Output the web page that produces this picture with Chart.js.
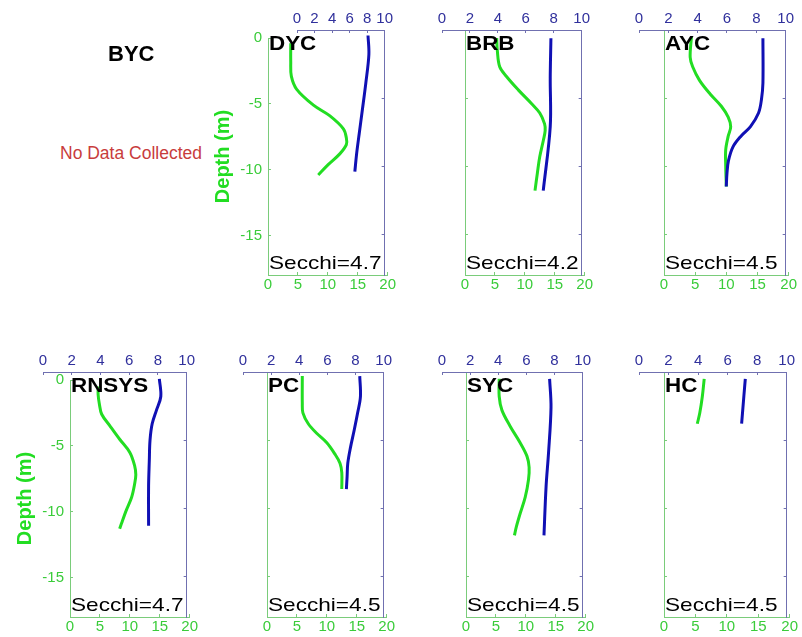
<!DOCTYPE html>
<html>
<head>
<meta charset="utf-8">
<script src="https://cdn.jsdelivr.net/npm/chart.js@4.4.1/dist/chart.umd.min.js"></script>
<style>
  html, body { margin: 0; padding: 0; background: #fff; }
  #fig { position: relative; width: 802px; height: 637px; overflow: hidden; font-family: Arial, "Liberation Sans", sans-serif; }
  #fig canvas { position: absolute; }
  .lbl { position: absolute; white-space: nowrap; transform-origin: 0 0; color: #000; }
</style>
</head>
<body>
<div id="fig"></div>
<script>
// temperature (green, bottom axis 0-20) and DO (blue, top axis 0-10) vs depth, per station
const DYC_T_Z = [-0.4, -1.8, -2.9, -3.9, -5.1, -5.9, -6.9, -7.6, -8.1, -8.8, -9.6, -10.4];
const DYC_T   = [3.8, 3.8, 3.9, 4.8, 7.6, 10.3, 12.6, 13.1, 13.1, 12.0, 10.1, 8.4];
const DYC_DO_Z = [-0.4, -1.8, -3.9, -5.9, -7.6, -9.1, -10.4];
const DYC_DO   = [8.1, 8.2, 7.85, 7.45, 7.1, 6.8, 6.6];

const BRB_T_Z = [-0.6, -1.5, -2.7, -3.4, -4.4, -5.4, -6.1, -6.9, -7.4, -8.1, -9.3, -10.5, -11.8];
const BRB_T   = [5.3, 5.4, 5.8, 6.9, 8.9, 11.1, 12.5, 13.3, 13.4, 13.1, 12.5, 12.1, 11.7];
const BRB_DO_Z = [-0.6, -3.5, -7.1, -11.8];
const BRB_DO   = [7.8, 7.75, 7.75, 7.25];

const AYC_T_Z = [-0.5, -2.0, -2.7, -3.7, -4.7, -5.6, -6.4, -7.1, -7.8, -8.8, -10.0, -11.5];
const AYC_T   = [4.4, 4.2, 4.6, 5.7, 7.4, 9.2, 10.3, 10.7, 10.3, 9.9, 9.9, 10.0];
const AYC_DO_Z = [-0.6, -3.9, -5.1, -6.1, -7.1, -7.8, -8.6, -9.6, -10.5, -11.5];
const AYC_DO   = [8.45, 8.45, 8.35, 8.15, 7.6, 6.95, 6.4, 6.1, 6.0, 5.95];

const RNSYS_T_Z = [-0.5, -1.1, -1.8, -2.6, -3.5, -4.5, -5.5, -6.5, -7.2, -7.9, -8.9, -9.9, -10.9, -11.3];
const RNSYS_T   = [4.7, 4.7, 4.9, 5.3, 6.7, 8.3, 10.0, 10.8, 11.0, 10.8, 10.3, 9.4, 8.6, 8.3];
const RNSYS_DO_Z = [-0.5, -1.8, -2.8, -3.8, -5.0, -6.5, -8.4, -11.3];
const RNSYS_DO   = [8.1, 8.2, 7.9, 7.6, 7.45, 7.4, 7.35, 7.35];

const PC_T_Z = [-0.3, -2.3, -3.0, -3.8, -4.5, -5.2, -6.0, -6.7, -7.4, -8.6];
const PC_T   = [5.9, 5.9, 6.0, 6.9, 8.3, 10.0, 11.3, 12.2, 12.5, 12.5];
const PC_DO_Z = [-0.3, -1.8, -3.0, -4.3, -5.5, -6.7, -7.7, -8.6];
const PC_DO   = [8.3, 8.35, 8.15, 7.9, 7.65, 7.45, 7.4, 7.35];

const SYC_T_Z = [-0.5, -1.8, -2.8, -4.0, -5.2, -6.2, -7.0, -7.9, -9.2, -10.4, -11.4, -12.0];
const SYC_T   = [5.55, 5.55, 6.0, 7.4, 9.05, 10.2, 10.55, 10.45, 9.9, 9.05, 8.4, 8.1];
const SYC_DO_Z = [-0.5, -2.6, -6.0, -8.4, -12.0];
const SYC_DO   = [7.65, 7.75, 7.57, 7.4, 7.25];

const HC_T_Z = [-0.5, -1.8, -3.0, -3.8];
const HC_T   = [6.4, 6.1, 5.7, 5.3];
const HC_DO_Z = [-0.5, -1.8, -3.8];
const HC_DO   = [7.2, 7.1, 6.95];

const SECCHI = { DYC: 4.7, BRB: 4.2, AYC: 4.5, RNSYS: 4.7, PC: 4.5, SYC: 4.5, HC: 4.5 };

const T_TICKS = [0, 5, 10, 15, 20];
const DO_TICKS = [0, 2, 4, 6, 8, 10];
const Z_TICKS = [-15, -10, -5, 0];

const GREEN = '#22dd22', GREEN_AX = '#7acc7a', GREEN_TXT = '#3acc3a';
const BLUE = '#1010b4', BLUE_AX = '#7070b0', BLUE_TXT = '#30309c';

// panel frames: row, green box [left,right], blue axis [left,right]
const ROWS = [{ top: 30, bottom: 275 }, { top: 372, bottom: 617 }];
const PANELS = [
  { name: 'DYC', row: 0, g: [268, 388], b: [297, 388], ylab: true, t: DYC_T, tz: DYC_T_Z, o: DYC_DO, oz: DYC_DO_Z },
  { name: 'BRB', row: 0, g: [465, 585], b: [442, 585], ylab: false, t: BRB_T, tz: BRB_T_Z, o: BRB_DO, oz: BRB_DO_Z },
  { name: 'AYC', row: 0, g: [664, 789], b: [639, 789], ylab: false, t: AYC_T, tz: AYC_T_Z, o: AYC_DO, oz: AYC_DO_Z },
  { name: 'RNSYS', row: 1, g: [70, 190], b: [43, 190], ylab: true, t: RNSYS_T, tz: RNSYS_T_Z, o: RNSYS_DO, oz: RNSYS_DO_Z },
  { name: 'PC', row: 1, g: [267, 387], b: [243, 387], ylab: false, t: PC_T, tz: PC_T_Z, o: PC_DO, oz: PC_DO_Z },
  { name: 'SYC', row: 1, g: [466, 586], b: [442, 586], ylab: false, t: SYC_T, tz: SYC_T_Z, o: SYC_DO, oz: SYC_DO_Z },
  { name: 'HC', row: 1, g: [664, 790], b: [639, 790], ylab: false, t: HC_T, tz: HC_T_Z, o: HC_DO, oz: HC_DO_Z },
];

const fig = document.getElementById('fig');

function addCanvas(left, top, w, h) {
  const c = document.createElement('canvas');
  c.width = w; c.height = h;
  c.style.left = left + 'px'; c.style.top = top + 'px';
  c.style.width = w + 'px'; c.style.height = h + 'px';
  fig.appendChild(c);
  return c;
}
function addText(txt, left, top, css) {
  const d = document.createElement('div');
  d.className = 'lbl'; d.textContent = txt;
  d.style.left = left + 'px'; d.style.top = top + 'px';
  Object.assign(d.style, css || {});
  fig.appendChild(d);
}
const fixTicks = (vals) => (s) => { s.ticks = vals.map(v => ({ value: v })); };
const lineSet = (xs, zs, color) => ({
  data: xs.map((v, i) => ({ x: v, y: zs[i] })), showLine: true, borderColor: color,
  borderWidth: 3, pointRadius: 0, tension: 0.35, fill: false,
});
const base = { responsive: false, animation: false, events: [], plugins: { legend: { display: false }, tooltip: { enabled: false } } };
const TICK_FONT = { size: 15 };

function drawPanel(p) {
  const row = ROWS[p.row], h = row.bottom - row.top;
  // green axes: temperature on bottom, depth on left
  const yw = p.ylab ? 57 : 10;
  const gw = p.g[1] - p.g[0];
  new Chart(addCanvas(p.g[0] - yw, row.top - 10, gw + yw + 12, h + 35), {
    type: 'scatter',
    data: { datasets: [lineSet(p.t, p.tz, GREEN)] },
    options: Object.assign({}, base, {
      layout: { padding: { left: 0, right: 12, top: 10, bottom: 0 } },
      scales: {
        x: { type: 'linear', position: 'bottom', min: 0, max: 20, afterBuildTicks: fixTicks(T_TICKS), afterFit: s => { s.height = 25; },
          grid: { drawOnChartArea: false, tickLength: -3, color: GREEN_AX }, border: { color: GREEN_AX },
          ticks: { color: GREEN_TXT, font: TICK_FONT, padding: 4, autoSkip: false, maxRotation: 0 } },
        y: { type: 'linear', position: 'left', min: -18, max: 0, afterBuildTicks: fixTicks(Z_TICKS), afterFit: s => { s.width = yw; },
          grid: { drawOnChartArea: false, tickLength: -3, color: GREEN_AX }, border: { color: GREEN_AX },
          ticks: { display: p.ylab, color: GREEN_TXT, font: TICK_FONT, padding: 9 },
          title: { display: p.ylab, text: 'Depth (m)', color: GREEN, font: { size: 20, weight: 'bold' }, padding: 0 } },
      },
    }),
  });
  // blue axes: dissolved oxygen on top, right border
  const bw = p.b[1] - p.b[0];
  new Chart(addCanvas(p.b[0] - 10, row.top - 25, bw + 20, h + 30), {
    type: 'scatter',
    data: { datasets: [lineSet(p.o, p.oz, BLUE)] },
    options: Object.assign({}, base, {
      layout: { padding: { left: 10, right: 10, top: 0, bottom: 5 } },
      scales: {
        x: { type: 'linear', position: 'top', min: 0, max: 10, afterBuildTicks: fixTicks(DO_TICKS), afterFit: s => { s.height = 25; },
          grid: { drawOnChartArea: false, tickLength: -3, color: BLUE_AX }, border: { color: BLUE_AX },
          ticks: { color: BLUE_TXT, font: TICK_FONT, padding: 5, autoSkip: false, maxRotation: 0 } },
        y: { type: 'linear', position: 'right', min: -18, max: 0, afterBuildTicks: fixTicks(Z_TICKS), afterFit: s => { s.width = 0; },
          grid: { drawOnChartArea: false, tickLength: -3, color: BLUE_AX }, border: { color: BLUE_AX },
          ticks: { display: false } },
      },
    }),
  });
  addText(p.name, p.g[0] + 1, row.top + 3, { font: 'bold 20px Arial, "Liberation Sans", sans-serif', lineHeight: '20px', transform: 'scaleX(1.12)' });
  addText('Secchi=' + SECCHI[p.name], p.g[0] + 1, row.bottom - 6 - 16, { font: '19px Arial, "Liberation Sans", sans-serif', lineHeight: '19px', transform: 'scaleX(1.19)' });
}

PANELS.forEach(drawPanel);

// empty station
addText('BYC', 108, 43, { font: 'bold 22px Arial, "Liberation Sans", sans-serif', lineHeight: '22px' });
addText('No Data Collected', 60, 144, { font: '17.5px Arial, "Liberation Sans", sans-serif', lineHeight: '18px', color: '#c83c3c' });
</script>
</body>
</html>
